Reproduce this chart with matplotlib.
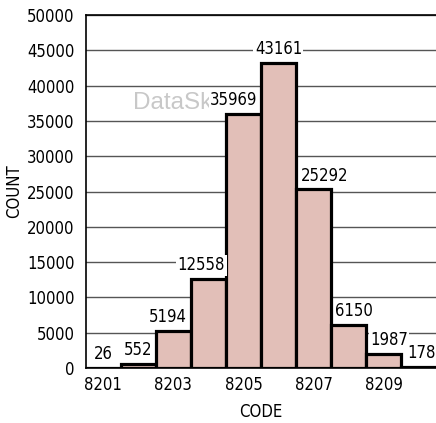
import matplotlib
matplotlib.use("Agg")
import matplotlib.pyplot as plt

# datos del histograma
codes = [8201, 8202, 8203, 8204, 8205, 8206, 8207, 8208, 8209, 8210]
counts = [26, 552, 5194, 12558, 35969, 43161, 25292, 6150, 1987, 178]
xticks = [8201, 8203, 8205, 8207, 8209]
yticks = list(range(0, 50001, 5000))

# desplazamiento horizontal de cada etiqueta (en puntos)
label_dx = [0, 0, -4, -5, -7, 0, 8, 4, 4, 2]

plt.rcParams['font.family'] = ['DejaVu Sans']
plt.rcParams['font.stretch'] = 'condensed'
plt.rcParams['font.size'] = 12

fig = plt.figure(figsize=(4.36, 4.23), dpi=100)
ax = fig.add_axes([0.197, 0.130, 0.803, 0.8345])

ax.bar(codes, counts, width=1.0, color='#e2bfb8', edgecolor='black',
       linewidth=2.3, zorder=3)

for c, n, dx in zip(codes, counts, label_dx):
    ax.annotate(str(n), (c, n), xytext=(dx, 3.5), textcoords='offset points',
                ha='center', va='bottom', fontsize=12, zorder=5,
                bbox=dict(facecolor='white', edgecolor='none', pad=1.0))

# marca de agua
ax.text(0.135, 0.752, 'DataSkills.com', transform=ax.transAxes,
        fontsize=17.5, color='#c8c8c8', family='Liberation Sans',
        stretch='normal', va='center', ha='left', zorder=2)

ax.set_xlim(8200.5, 8210.5)
ax.set_ylim(0, 50000)
ax.set_xticks(xticks)
ax.set_yticks(yticks)
ax.tick_params(axis='y', length=0, pad=8, labelsize=12)
ax.tick_params(axis='x', length=0, pad=6, labelsize=12)
ax.yaxis.grid(True, color='#555555', linewidth=1.0, zorder=1)
ax.set_axisbelow(True)
ax.spines['right'].set_visible(False)
for s in ['left', 'top', 'bottom']:
    ax.spines[s].set_linewidth(1.2)

ax.set_xlabel('CODE', fontsize=12, labelpad=6)
ax.set_ylabel('COUNT', fontsize=12, labelpad=3)

fig.savefig('out.png', dpi=100)
